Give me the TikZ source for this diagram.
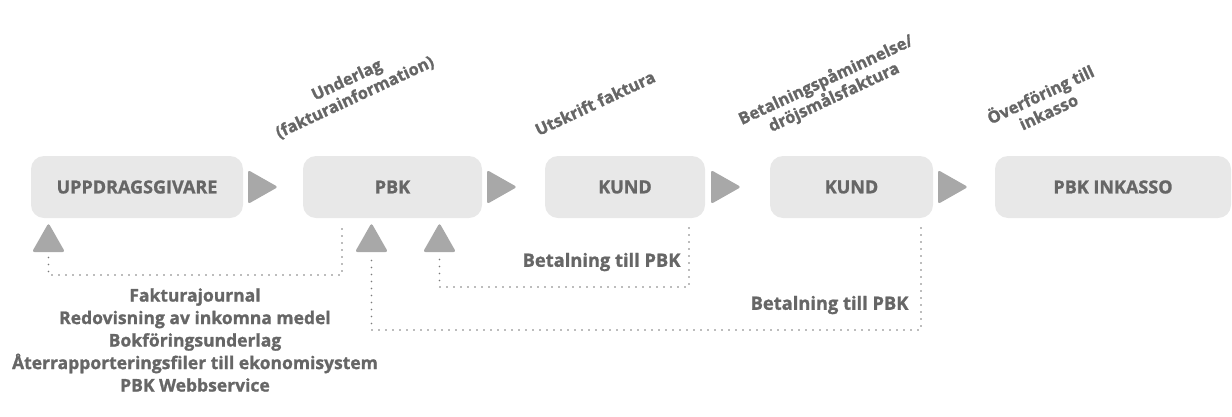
\documentclass[tikz,border=0pt]{standalone}
\usepackage{fontspec}
\setmainfont{Open Sans}[BoldFeatures={FakeBold=1.2}]
\begin{document}
\begin{tikzpicture}[x=1pt,y=-1pt,
  txt/.style={text=txtgray,font=\bfseries\fontsize{17.5}{22.5}\selectfont},
  pay/.style={text=txtgray,font=\bfseries\fontsize{18.3}{22}\selectfont},
  box/.style={fill=boxgray,rounded corners=13pt,minimum height=62pt,inner sep=0pt,
    text=txtgray,font=\bfseries\fontsize{18}{20}\selectfont},
  tri/.style={fill=trigray,rounded corners=2.5pt},
  dots/.style={draw=dotgray,line width=1.6pt,line cap=round,dash pattern=on 0pt off 7pt},
  rot/.style={text=txtgray,font=\bfseries\fontsize{16.5}{19}\selectfont,rotate=25,align=center}]
\definecolor{boxgray}{HTML}{E8E8E8}
\definecolor{txtgray}{HTML}{666666}
\definecolor{trigray}{HTML}{A8A8A8}
\definecolor{dotgray}{HTML}{7A7A7A}
\useasboundingbox (0,0) rectangle (1232,416);
% boxes
\node[box,minimum width=212pt] (b1) at (137,187) {UPPDRAGSGIVARE};
\node[box,minimum width=179pt] (b2) at (392.5,187) {PBK};
\node[box,minimum width=160pt] (b3) at (625,187) {KUND};
\node[box,minimum width=163pt] (b4) at (851.5,187) {KUND};
\node[box,minimum width=236pt] (b5) at (1113,187) {PBK INKASSO};
% right triangles
\fill[tri] (248,170) -- (278,187) -- (248,204) -- cycle;
\fill[tri] (487,170) -- (517,187) -- (487,204) -- cycle;
\fill[tri] (711,170) -- (741,187) -- (711,204) -- cycle;
\fill[tri] (938,170) -- (968,187) -- (938,204) -- cycle;
% up triangles
\fill[tri] (32,252) -- (48.5,223) -- (65,252) -- cycle;
\fill[tri] (355,252) -- (371.5,223) -- (388,252) -- cycle;
\fill[tri] (423,252) -- (439.5,223) -- (456,252) -- cycle;
\coordinate (u1) at (48.5,257);
\coordinate (u2) at (371.5,257);
\coordinate (u3) at (439.5,257);
\coordinate (s1) at (342,229);
\coordinate (s2) at (921,228);
\coordinate (s3) at (689,228);
% dotted connectors
\draw[dots] (s1) -- (342,275) -| (u1);
\draw[dots] (s2) -- (921,330) -| (u2);
\draw[dots] (s3) -- (689,287) -| (u3);
% labels
\node[pay,anchor=east] (l1) at (684,262) {Betalning till PBK};
\node[pay,anchor=east] (l2) at (912,305) {Betalning till PBK};
\node[txt,align=center] (l3) at (195,340) {Fakturajournal\\Redovisning av inkomna medel\\Bokföringsunderlag\\Återrapporteringsfiler till ekonomisystem\\PBK Webbservice};
\node[rot] (r1) at (351,89) {Underlag\\(fakturainformation)};
\node[rot] (r2) at (595,103) {Utskrift faktura};
\node[rot] (r3) at (830,89) {Betalningspåminnelse/\\dröjsmålsfaktura};
\node[rot] (r4) at (1044,102) {Överföring till\\inkasso};
\end{tikzpicture}
\end{document}
